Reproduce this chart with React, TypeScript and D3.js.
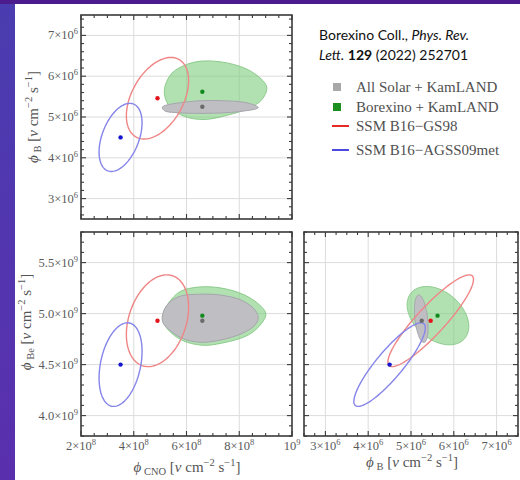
import React from 'react';
import * as d3 from 'd3';

const W = 520;
const H = 480;

// Units: CNO flux in 1e8, B flux in 1e6, Be flux in 1e9 (nu cm^-2 s^-1)
const seriesNames = ['All Solar + KamLAND', 'Borexino + KamLAND', 'SSM B16\u2212GS98', 'SSM B16\u2212AGSS09met'];
const centerCNO = [6.6, 6.6, 4.9, 3.5];
const centerB = [5.25, 5.62, 5.46, 4.5];
const centerBe = [4.93, 4.98, 4.93, 4.5];

// SSM ellipses (GS98, AGSS09met): sigmas and correlations
const ssmSigmaCNO = [1.18, 0.815];
const ssmSigmaB = [1.0, 0.835];
const ssmSigmaBe = [0.45, 0.41];
const ssmRhoCNOB = [0.43, 0.43];
const ssmRhoCNOBe = [0.3, 0.32];
const ssmRhoBBe = [0.9, 0.88];

// Fit contours, CNO vs B
const grayCNOB: [number, number][] = [
  [5.08, 5.24], [6.07, 5.375], [7.33, 5.4], [8.34, 5.34], [8.72, 5.23],
  [7.96, 5.13], [6.7, 5.09], [5.56, 5.11], [5.18, 5.15],
];
const greenCNOB: [number, number][] = [
  [5.18, 5.74], [5.44, 6.07], [5.94, 6.27], [6.58, 6.37], [7.58, 6.32], [8.47, 6.11],
  [9.04, 5.74], [8.85, 5.42], [8.34, 5.21], [7.58, 5.05], [6.7, 4.94], [5.94, 5.01],
  [5.37, 5.25], [5.18, 5.5],
];
// Fit contours, CNO vs Be
const grayCNOBe: [number, number][] = [
  [5.08, 4.97], [5.25, 5.08], [5.69, 5.165], [6.45, 5.19], [7.33, 5.18], [8.09, 5.13],
  [8.6, 5.035], [8.72, 4.95], [8.53, 4.87], [7.96, 4.79], [7.08, 4.73], [6.45, 4.72],
  [5.82, 4.76], [5.31, 4.85], [5.12, 4.905],
];
const greenCNOBe: [number, number][] = [
  [5.12, 5.003], [5.31, 5.1], [5.75, 5.215], [6.45, 5.26], [7.33, 5.25], [8.22, 5.18],
  [8.79, 5.08], [9.01, 5.0], [8.85, 4.905], [8.34, 4.79], [7.33, 4.71], [6.58, 4.69],
  [5.82, 4.74], [5.31, 4.84], [5.12, 4.92],
];
// Fit contours, B vs Be (gray, green)
const fitSigmaB = [0.16, 0.72];
const fitSigmaBe = [0.233, 0.286];
const fitRhoBBe = [-0.37, -0.37];
const fitCenterB = [5.24, 5.63];
const fitCenterBe = [4.95, 4.98];

// Ticks
const cnoMajor = [2, 4, 6, 8, 10];
const cnoLabels = [['2\u00d710', '8'], ['4\u00d710', '8'], ['6\u00d710', '8'], ['8\u00d710', '8'], ['10', '9']];
const bMajor = [3, 4, 5, 6, 7];
const bLabels = [['3\u00d710', '6'], ['4\u00d710', '6'], ['5\u00d710', '6'], ['6\u00d710', '6'], ['7\u00d710', '6']];
const beMajor = [4.0, 4.5, 5.0, 5.5];
const beLabels = [['4.0\u00d710', '9'], ['4.5\u00d710', '9'], ['5.0\u00d710', '9'], ['5.5\u00d710', '9']];

const COLORS = {
  grayFill: '#bfbfc3', grayStroke: '#a5a5ad',
  greenFill: 'rgba(125,205,125,0.6)', greenStroke: '#8ccb8c',
  red: '#f08585', blue: '#8585ea',
  dot: ['#6a6a6a', '#138a1e', '#e3141c', '#1515d0'],
  legend: ['#a8a8a8', '#1b8f1f', '#e82a24', '#4a4ae0'],
};

// scales
const xCNO = d3.scaleLinear().domain([2, 10]).range([81, 292]);
const yB = d3.scaleLinear().domain([2.5, 7.5]).range([219, 15]);
const yBe = d3.scaleLinear().domain([3.8, 5.8]).range([436, 232]);
const xB = d3.scaleLinear().domain([2.5, 7.5]).range([304, 518]);

function ellipsePts(cx: number, cy: number, sx: number, sy: number, rho: number): [number, number][] {
  const k = Math.sqrt(1 - rho * rho);
  return d3.range(0, 360, 3).map((deg) => {
    const t = (deg * Math.PI) / 180;
    return [cx + sx * Math.cos(t), cy + sy * (rho * Math.cos(t) + k * Math.sin(t))] as [number, number];
  });
}

function pathFor(pts: [number, number][], xs: any, ys: any, smooth: boolean) {
  const line = d3
    .line<[number, number]>()
    .x((d) => xs(d[0]))
    .y((d) => ys(d[1]))
    .curve(smooth ? d3.curveCatmullRomClosed.alpha(0.5) : d3.curveLinearClosed);
  return line(pts) || '';
}

function Frame({ xs, ys, xMajor, xStep, yMajor, yStep }: any) {
  const [x0, x1] = xs.range();
  const [y0, y1] = ys.range();
  const [dx0, dx1] = xs.domain();
  const [dy0, dy1] = ys.domain();
  const xMinor = d3.range(Math.ceil(dx0 / xStep - 1e-9) * xStep, dx1 + 1e-9, xStep);
  const yMinor = d3.range(Math.ceil(dy0 / yStep - 1e-9) * yStep, dy1 + 1e-9, yStep);
  const isMajor = (v: number, arr: number[]) => arr.some((m) => Math.abs(m - v) < 1e-6);
  const ticks: any[] = [];
  xMinor.forEach((v: number, i: number) => {
    const L = isMajor(v, xMajor) ? 5 : 3;
    const x = xs(v);
    ticks.push(<line key={'xb' + i} x1={x} x2={x} y1={y0} y2={y0 - L} />);
    ticks.push(<line key={'xt' + i} x1={x} x2={x} y1={y1} y2={y1 + L} />);
  });
  yMinor.forEach((v: number, i: number) => {
    const L = isMajor(v, yMajor) ? 5 : 3;
    const y = ys(v);
    ticks.push(<line key={'yl' + i} x1={x0} x2={x0 + L} y1={y} y2={y} />);
    ticks.push(<line key={'yr' + i} x1={x1} x2={x1 - L} y1={y} y2={y} />);
  });
  return (
    <g>
      <g stroke="#3a3a3a" strokeWidth={1.1}>{ticks}</g>
      <rect x={x0} y={y1} width={x1 - x0} height={y0 - y1} fill="none" stroke="#3a3a3a" strokeWidth={1.6} />
    </g>
  );
}

function Grid({ xs, ys, xMajor, yMajor }: any) {
  const [x0, x1] = xs.range();
  const [y0, y1] = ys.range();
  return (
    <g stroke="#dcdcdc" strokeWidth={1}>
      {xMajor.map((v: number, i: number) => (
        <line key={'gx' + i} x1={xs(v)} x2={xs(v)} y1={y0} y2={y1} />
      ))}
      {yMajor.map((v: number, i: number) => (
        <line key={'gy' + i} x1={x0} x2={x1} y1={ys(v)} y2={ys(v)} />
      ))}
    </g>
  );
}

function Dots({ xs, ys, xv, yv }: any) {
  return (
    <g>
      {xv.map((x: number, i: number) => (
        <circle key={i} cx={xs(x)} cy={ys(yv[i])} r={2.2} fill={COLORS.dot[i]} />
      ))}
    </g>
  );
}

function TickLabel({ x, y, lab, anchor }: any) {
  return (
    <text x={x} y={y} textAnchor={anchor} fontFamily="'Liberation Serif', 'DejaVu Serif', serif" fontSize={12.5} fill="#5a5a5a">
      {lab[0]}
      <tspan fontSize={8.5} dy={-5}>{lab[1]}</tspan>
    </text>
  );
}

function FluxLabel({ sub, ...rest }: any) {
  const base = 15;
  const small = 10.5;
  return (
    <text fontFamily="'Liberation Serif', 'DejaVu Serif', serif" fontSize={base} fill="#555" textAnchor="middle" {...rest}>
      <tspan fontStyle="italic">{'\u03d5'}</tspan>
      <tspan fontSize={small} dy={3}>{' ' + sub}</tspan>
      <tspan fontSize={base} dy={-3}>{' ['}</tspan>
      <tspan fontStyle="italic">ν</tspan>
      <tspan>{' cm'}</tspan>
      <tspan fontSize={small} dy={-6}>{'\u22122'}</tspan>
      <tspan fontSize={base} dy={6}>{' s'}</tspan>
      <tspan fontSize={small} dy={-6}>{'\u22121'}</tspan>
      <tspan fontSize={base} dy={6}>{']'}</tspan>
    </text>
  );
}

export default function App() {
  const ssmColors = [COLORS.red, COLORS.blue];
  return (
    <svg width={W} height={H} style={{ position: 'absolute', left: 0, top: 0 }} xmlns="http://www.w3.org/2000/svg">
      <defs>
        <linearGradient id="bg" x1="0" y1="0" x2="0" y2="1">
          <stop offset="0" stopColor="#4a3db0" />
          <stop offset="1" stopColor="#5a2fae" />
        </linearGradient>
      </defs>
      <rect x={0} y={0} width={W} height={H} fill="url(#bg)" />
      <rect x={0} y={0} width={W} height={4} fill="#4c1c8e" />
      <rect x={15} y={4} width={W - 15} height={H - 4} fill="#ffffff" />

      {/* Panel 1: CNO vs B */}
      <Grid xs={xCNO} ys={yB} xMajor={[4, 6, 8]} yMajor={bMajor} />
      <path d={pathFor(greenCNOB, xCNO, yB, true)} fill={COLORS.greenFill} stroke={COLORS.greenStroke} strokeWidth={1} />
      <path d={pathFor(grayCNOB, xCNO, yB, true)} fill={COLORS.grayFill} stroke={COLORS.grayStroke} strokeWidth={1} />
      {[0, 1].map((i) => (
        <path key={'e1' + i}
          d={pathFor(ellipsePts(centerCNO[i + 2], centerB[i + 2], ssmSigmaCNO[i], ssmSigmaB[i], ssmRhoCNOB[i]), xCNO, yB, false)}
          fill="none" stroke={ssmColors[i]} strokeWidth={1.4} />
      ))}
      <Dots xs={xCNO} ys={yB} xv={centerCNO} yv={centerB} />
      <Frame xs={xCNO} ys={yB} xMajor={cnoMajor} xStep={0.5} yMajor={bMajor} yStep={0.2} />
      {bMajor.map((v, i) => (
        <TickLabel key={'l1' + i} x={78} y={yB(v) + 4} lab={bLabels[i]} anchor="end" />
      ))}
      <FluxLabel sub="B" transform="translate(37.5,117) rotate(-90)" />

      {/* Panel 2: CNO vs Be */}
      <Grid xs={xCNO} ys={yBe} xMajor={[4, 6, 8]} yMajor={beMajor} />
      <path d={pathFor(greenCNOBe, xCNO, yBe, true)} fill={COLORS.greenFill} stroke={COLORS.greenStroke} strokeWidth={1} />
      <path d={pathFor(grayCNOBe, xCNO, yBe, true)} fill={COLORS.grayFill} stroke={COLORS.grayStroke} strokeWidth={1} />
      {[0, 1].map((i) => (
        <path key={'e2' + i}
          d={pathFor(ellipsePts(centerCNO[i + 2], centerBe[i + 2], ssmSigmaCNO[i], ssmSigmaBe[i], ssmRhoCNOBe[i]), xCNO, yBe, false)}
          fill="none" stroke={ssmColors[i]} strokeWidth={1.4} />
      ))}
      <Dots xs={xCNO} ys={yBe} xv={centerCNO} yv={centerBe} />
      <Frame xs={xCNO} ys={yBe} xMajor={cnoMajor} xStep={0.5} yMajor={beMajor} yStep={0.1} />
      {beMajor.map((v, i) => (
        <TickLabel key={'l2' + i} x={78} y={yBe(v) + 4} lab={beLabels[i]} anchor="end" />
      ))}
      {cnoMajor.map((v, i) => (
        <TickLabel key={'l3' + i} x={xCNO(v)} y={450} lab={cnoLabels[i]} anchor="middle" />
      ))}
      <FluxLabel sub="Be" transform="translate(31,322) rotate(-90)" />
      <FluxLabel sub="CNO" x={187} y={472} />

      {/* Panel 3: B vs Be */}
      <Grid xs={xB} ys={yBe} xMajor={bMajor} yMajor={beMajor} />
      {[1, 0].map((j) => (
        <path key={'f3' + j}
          d={pathFor(ellipsePts(fitCenterB[j], fitCenterBe[j], fitSigmaB[j], fitSigmaBe[j], fitRhoBBe[j]), xB, yBe, false)}
          fill={j === 1 ? COLORS.greenFill : COLORS.grayFill}
          stroke={j === 1 ? COLORS.greenStroke : COLORS.grayStroke} strokeWidth={1} />
      ))}
      {[0, 1].map((i) => (
        <path key={'e3' + i}
          d={pathFor(ellipsePts(centerB[i + 2], centerBe[i + 2], ssmSigmaB[i], ssmSigmaBe[i], ssmRhoBBe[i]), xB, yBe, false)}
          fill="none" stroke={ssmColors[i]} strokeWidth={1.4} />
      ))}
      <Dots xs={xB} ys={yBe} xv={centerB} yv={centerBe} />
      <Frame xs={xB} ys={yBe} xMajor={bMajor} xStep={0.25} yMajor={beMajor} yStep={0.1} />
      {bMajor.map((v, i) => (
        <TickLabel key={'l4' + i} x={xB(v)} y={450} lab={bLabels[i]} anchor="middle" />
      ))}
      <FluxLabel sub="B" x={412} y={467} />

      {/* Citation + legend */}
      <text x={319} y={40} fontFamily="Lato, 'Open Sans', sans-serif" fontSize={14} fill="#111">
        Borexino Coll., <tspan fontStyle="italic">Phys. Rev.</tspan>
      </text>
      <text x={319} y={60} fontFamily="Lato, 'Open Sans', sans-serif" fontSize={14} fill="#111">
        <tspan fontStyle="italic">Lett.</tspan> <tspan fontWeight="bold">129</tspan> (2022) 252701
      </text>
      {seriesNames.map((name, i) => {
        const ys = [87, 107, 126, 150][i];
        return (
          <g key={'lg' + i}>
            {i < 2 ? (
              <rect x={333} y={ys - 4} width={8} height={8} fill={COLORS.legend[i]} />
            ) : (
              <line x1={332} x2={349} y1={ys} y2={ys} stroke={COLORS.legend[i]} strokeWidth={2} />
            )}
            <text x={356} y={ys + 5} fontFamily="'Liberation Serif', 'DejaVu Serif', serif" fontSize={15} fill="#505050">
              {name}
            </text>
          </g>
        );
      })}
    </svg>
  );
}
